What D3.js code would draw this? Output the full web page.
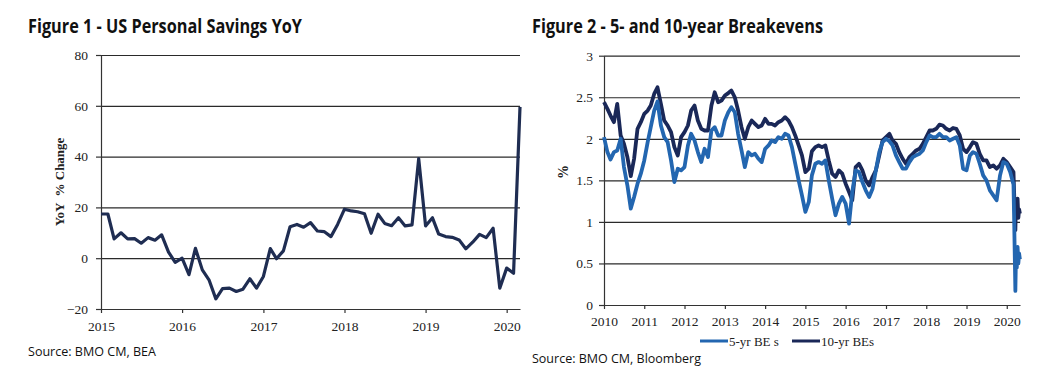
<!DOCTYPE html>
<html>
<head>
<meta charset="utf-8">
<script src="https://cdn.jsdelivr.net/npm/d3@7"></script>
<style>
  body { margin: 0; background: #fff; }
  svg { display: block; }
  .title { font-family: "Open Sans", sans-serif; font-weight: 700; font-size: 19px; fill: #111; }
  .source { font-family: "Open Sans", sans-serif; font-size: 13px; fill: #111; }
  .axis text { font-family: "Liberation Serif", serif; font-size: 13.5px; fill: #222; }
  .axis path, .axis line { stroke: #333; stroke-width: 1.2; }
  .grid line { stroke: #2a2a2a; stroke-width: 1.2; }
  .grid path { display: none; }
  .ylabel { font-family: "Liberation Serif", serif; font-weight: bold; fill: #222; }
  .legend text { font-family: "Liberation Serif", serif; font-size: 13px; fill: #222; }
</style>
</head>
<body>
<svg id="chart" width="1052" height="377"></svg>
<script>
// Figure 1 - monthly YoY change in personal savings, Jan 2015 .. Mar 2020
const savingsStart = new Date(2015, 0, 1)
const savingsYoY = [
  17.4, 17.4, 7.6, 10, 7.6, 7.7, 5.9, 8.1, 7.1, 9.2, 2.4, -1.6,
  0, -6.5, 3.9, -4.6, -8.5, -16, -12, -11.8, -13.1, -12.2, -8.1, -11.8,
  -7.2, 3.8, -0.2, 2.9, 12.4, 13.3, 12.2, 14, 10.7, 10.5, 8.5, 13.3,
  19.3, 18.6, 18.3, 17.5, 9.8, 17.3, 13.7, 12.8, 15.9, 12.7, 13.1, 39.2,
  12.7, 15.9, 9.5, 8.5, 8.2, 7.2, 3.7, 6.3, 9.4, 8.1, 11.8, -11.8,
  -3.9, -5.9, 59.6
]
const savingsTicks = [-20, 0, 20, 40, 60, 80]

// Figure 2 - breakevens, monthly Jan 2010 .. Feb 2020, then a denser tail for Mar/Apr 2020
const beStart = new Date(2010, 0, 1)
const be10Monthly = [
  2.44, 2.36, 2.28, 2.20, 2.42, 2.04, 1.94, 1.78, 1.55, 1.76, 2.12, 2.20,
  2.30, 2.34, 2.40, 2.54, 2.62, 2.42, 2.22, 2.16, 2.08, 1.90, 1.80, 2.02,
  2.08, 2.16, 2.34, 2.40, 2.22, 2.12, 2.10, 2.10, 2.40, 2.56, 2.44, 2.46,
  2.52, 2.55, 2.58, 2.50, 2.34, 2.14, 2.00, 2.14, 2.22, 2.18, 2.14, 2.16,
  2.24, 2.18, 2.18, 2.16, 2.20, 2.22, 2.26, 2.22, 2.14, 2.04, 1.92, 1.80,
  1.60, 1.64, 1.85, 1.90, 1.92, 1.90, 1.92, 1.74, 1.58, 1.54, 1.62, 1.58,
  1.46, 1.36, 1.26, 1.66, 1.70, 1.62, 1.50, 1.44, 1.54, 1.62, 1.80, 1.98,
  2.02, 2.06, 1.98, 1.94, 1.84, 1.76, 1.70, 1.78, 1.82, 1.86, 1.88, 1.94,
  2.02, 2.10, 2.10, 2.12, 2.17, 2.16, 2.12, 2.10, 2.13, 2.12, 2.04, 1.88,
  1.84, 1.90, 1.96, 1.94, 1.82, 1.74, 1.74, 1.66, 1.68, 1.64, 1.68, 1.76,
  1.72, 1.66
]
const be5Monthly = [
  2.02, 1.84, 1.75, 1.84, 1.86, 2.00, 1.66, 1.44, 1.16, 1.30, 1.46, 1.58,
  1.74, 1.96, 2.14, 2.34, 2.45, 2.16, 2.02, 1.96, 1.74, 1.48, 1.64, 1.62,
  1.66, 1.92, 2.06, 1.98, 1.84, 1.72, 1.88, 1.78, 2.10, 2.14, 2.04, 2.04,
  2.22, 2.32, 2.38, 2.32, 2.06, 1.86, 1.66, 1.84, 1.80, 1.82, 1.76, 1.72,
  1.88, 1.92, 1.98, 1.96, 2.02, 2.00, 2.06, 2.04, 1.90, 1.70, 1.50, 1.32,
  1.12, 1.24, 1.56, 1.70, 1.72, 1.70, 1.74, 1.50, 1.28, 1.08, 1.22, 1.30,
  1.22, 0.98, 1.36, 1.62, 1.60, 1.48, 1.38, 1.30, 1.40, 1.62, 1.84, 1.96,
  2.00, 1.97, 1.92, 1.80, 1.72, 1.64, 1.64, 1.72, 1.78, 1.80, 1.82, 1.86,
  1.96, 2.04, 2.02, 2.02, 2.06, 2.02, 2.02, 1.98, 2.00, 2.02, 1.92, 1.64,
  1.62, 1.80, 1.84, 1.82, 1.70, 1.56, 1.50, 1.38, 1.32, 1.26, 1.56, 1.72,
  1.70, 1.60
]
const beTailDates = ['2020-03-02', '2020-03-09', '2020-03-16', '2020-03-19', '2020-03-24',
  '2020-04-01', '2020-04-08', '2020-04-15', '2020-04-22', '2020-04-29']
const be10Tail = [1.60, 1.30, 1.05, 0.90, 1.20, 1.10, 1.28, 1.05, 1.15, 1.10]
const be5Tail = [1.45, 0.95, 0.40, 0.17, 0.55, 0.45, 0.70, 0.50, 0.62, 0.55]
const beTicks = [0, 0.5, 1, 1.5, 2, 2.5, 3]

const navy = '#1f2d52'
const color5 = '#2366b0'
const color10 = '#1a2858'

const $svg = d3.select('#chart')
const parseDay = d3.timeParse('%Y-%m-%d')

function monthly(start, values) {
  return values.map((v, i) => ({ date: d3.timeMonth.offset(start, i), value: v }))
}

function drawFrame(g, x, y, ticks, fmt, opts) {
  const [x0, x1] = x.range()
  g.append('g')
    .attr('class', 'grid')
    .attr('transform', `translate(${x0},0)`)
    .call(d3.axisLeft(y).tickValues(ticks).tickSize(-(x1 - x0)).tickFormat(''))

  g.append('g')
    .attr('class', 'axis')
    .attr('transform', `translate(${x0},0)`)
    .call(d3.axisLeft(y).tickValues(ticks).tickSize(opts.yTick).tickPadding(opts.yPad).tickFormat(fmt).tickSizeOuter(0))

  g.append('g')
    .attr('class', 'axis')
    .attr('transform', `translate(0,${y.range()[0]})`)
    .call(d3.axisBottom(x).ticks(d3.timeYear.every(1)).tickSize(opts.xTick).tickPadding(opts.xPad)
      .tickFormat(d3.timeFormat('%Y')).tickSizeOuter(0))
}

function drawTitle(x, yPos, text, width, cls) {
  $svg.append('text')
    .attr('class', cls)
    .attr('x', x)
    .attr('y', yPos)
    .attr('textLength', width)
    .attr('lengthAdjust', 'spacingAndGlyphs')
    .text(text)
}

function drawSavings() {
  const g = $svg.append('g')
  const data = monthly(savingsStart, savingsYoY)
  const x = d3.scaleTime().domain([savingsStart, new Date(2020, 2, 1)]).range([101, 520])
  const y = d3.scaleLinear().domain([-20, 80]).range([309, 55])

  drawFrame(g, x, y, savingsTicks, d3.format('d'), { yTick: 5, yPad: 8, xTick: 4, xPad: 8 })

  g.append('path')
    .datum(data)
    .attr('fill', 'none')
    .attr('stroke', navy)
    .attr('stroke-width', 3.2)
    .attr('stroke-linejoin', 'round')
    .attr('d', d3.line().x(d => x(d.date)).y(d => y(d.value)))

  g.append('text')
    .attr('class', 'ylabel')
    .attr('transform', 'translate(64,182) rotate(-90)')
    .attr('text-anchor', 'middle')
    .style('font-size', '13px')
    .attr('xml:space', 'preserve')
    .text('YoY  % Change')

  drawTitle(28, 33, 'Figure 1 - US Personal Savings YoY', 274, 'title')
  drawTitle(28, 356, 'Source: BMO CM, BEA', 128, 'source')
}

function drawBreakevens() {
  const g = $svg.append('g')
  const tail = beTailDates.map(parseDay)
  const s10 = monthly(beStart, be10Monthly).concat(tail.map((d, i) => ({ date: d, value: be10Tail[i] })))
  const s5 = monthly(beStart, be5Monthly).concat(tail.map((d, i) => ({ date: d, value: be5Tail[i] })))

  const x = d3.scaleTime().domain([beStart, new Date(2020, 3, 30)]).range([604, 1020])
  const y = d3.scaleLinear().domain([0, 3]).range([305, 55.7])

  drawFrame(g, x, y, beTicks, d3.format('~g'), { yTick: 5, yPad: 6, xTick: 4, xPad: 7 })

  const line = d3.line().x(d => x(d.date)).y(d => y(d.value))
  g.append('path').datum(s10)
    .attr('fill', 'none').attr('stroke', color10).attr('stroke-width', 3.8)
    .attr('stroke-linejoin', 'round').attr('d', line)
  g.append('path').datum(s5)
    .attr('fill', 'none').attr('stroke', color5).attr('stroke-width', 3.8)
    .attr('stroke-linejoin', 'round').attr('d', line)

  g.append('text')
    .attr('class', 'ylabel')
    .attr('transform', 'translate(568,172) rotate(-90)')
    .attr('text-anchor', 'middle')
    .style('font-size', '14px')
    .text('%')

  const legend = g.append('g').attr('class', 'legend')
  const items = [
    { label: '5-yr BE s', color: color5, x: 700 },
    { label: '10-yr BEs', color: color10, x: 792 }
  ]
  items.forEach(it => {
    legend.append('line')
      .attr('x1', it.x).attr('x2', it.x + 28)
      .attr('y1', 341).attr('y2', 341)
      .attr('stroke', it.color).attr('stroke-width', 3)
    legend.append('text')
      .attr('x', it.x + 29).attr('y', 345.5)
      .text(it.label)
  })

  drawTitle(532, 33, 'Figure 2 - 5- and 10-year Breakevens', 291, 'title')
  drawTitle(532, 363, 'Source: BMO CM, Bloomberg', 169, 'source')
}

drawSavings()
drawBreakevens()
</script>
</body>
</html>
